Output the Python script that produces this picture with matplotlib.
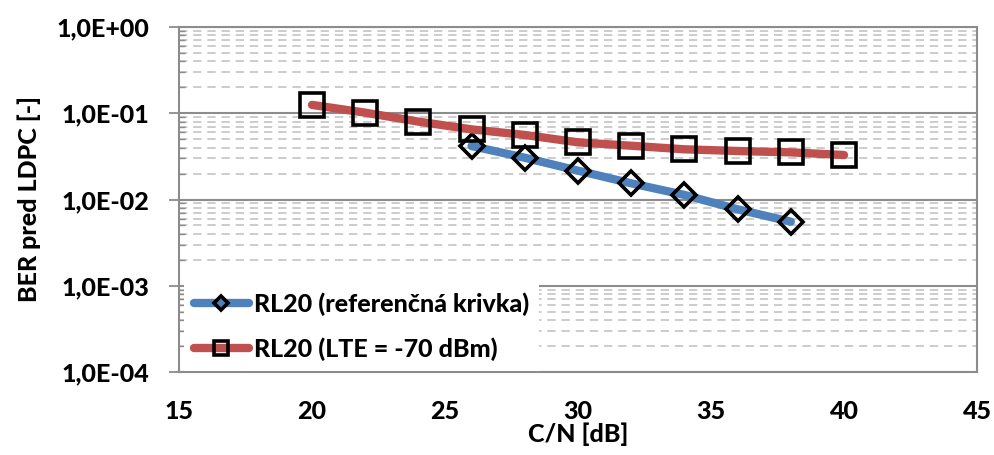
import matplotlib
matplotlib.use("Agg")
import matplotlib.pyplot as plt
from matplotlib.lines import Line2D
from matplotlib.ticker import LogLocator, FixedLocator, NullFormatter

plt.rcParams['font.family'] = ['Lato', 'DejaVu Sans']
FW = 900
plt.rcParams['font.weight'] = FW

# Data
cn_ref = [26, 28, 30, 32, 34, 36, 38]
ber_ref = [0.0417, 0.0305, 0.0216, 0.0154, 0.0113, 0.0077, 0.00553]
cn_lte = [20, 22, 24, 26, 28, 30, 32, 34, 36, 38, 40]
ber_lte = [0.125, 0.1016, 0.080, 0.065, 0.056, 0.046, 0.042, 0.0382, 0.0365, 0.0352, 0.0328]
labels = ['RL20 (referenčná krivka)', 'RL20 (LTE = -70 dBm)']
x_ticks = [15, 20, 25, 30, 35, 40, 45]
y_ticks = [1e-4, 1e-3, 1e-2, 1e-1, 1e0]
y_ticklabels = ['1,0E-04', '1,0E-03', '1,0E-02', '1,0E-01', '1,0E+00']

blue = '#4f81bd'
red = '#c0504d'
grid_major = '#8c8c8c'
grid_minor = '#c4c4c4'

fig = plt.figure(figsize=(9.95, 4.55), dpi=100)
ax = fig.add_axes([179/995, 1-372/455, (977-179)/995, (372-27)/455])

ax.set_yscale('log')
ax.set_xlim(15, 45)
ax.set_ylim(1e-4, 1)

ax.plot(cn_ref, ber_ref, color=blue, lw=6, solid_capstyle='round', zorder=3,
        marker='D', ms=12.5, mfc='none', mec='black', mew=2.6)
ax.plot(cn_lte, ber_lte, color=red, lw=6, solid_capstyle='round', zorder=3,
        marker='s', ms=17, mfc='none', mec='black', mew=2.6)

ax.yaxis.set_major_locator(FixedLocator(y_ticks))
ax.set_yticklabels(y_ticklabels)
ax.yaxis.set_minor_locator(LogLocator(base=10, subs=range(2, 10), numticks=20))
ax.yaxis.set_minor_formatter(NullFormatter())
ax.set_xticks(x_ticks)
ax.set_xticklabels([str(v) for v in x_ticks])

ax.grid(True, which='major', axis='y', color=grid_major, lw=1.5, zorder=1)
ax.grid(True, which='minor', axis='y', color=grid_minor, lw=1.2, linestyle=(0, (5, 3.5)), zorder=1)
ax.set_axisbelow(True)

for s in ax.spines.values():
    s.set_color(grid_major)
    s.set_linewidth(1.5)

ax.tick_params(axis='y', which='major', direction='out', length=7.5, width=1.3,
               color=grid_major, labelsize=18, pad=14)
ax.tick_params(axis='y', which='minor', direction='in', length=4, width=1.0, color=grid_major)
ax.tick_params(axis='x', which='both', length=0, labelsize=18, pad=20)
for t in ax.get_xticklabels() + ax.get_yticklabels():
    t.set_fontweight(FW)

ax.set_xlabel('C/N [dB]', fontsize=18, fontweight=FW, labelpad=0)
ax.set_ylabel('BER pred LDPC [-]', fontsize=18, fontweight=FW, labelpad=11)

handles = [
    Line2D([], [], color=blue, lw=6, solid_capstyle='round', marker='D', ms=7.5,
           mfc='none', mec='black', mew=2.6),
    Line2D([], [], color=red, lw=6, solid_capstyle='round', marker='s', ms=10,
           mfc='none', mec='black', mew=2.6),
]
leg = ax.legend(handles, labels, loc='lower left', bbox_to_anchor=(0.006, 0.004),
                borderaxespad=0, frameon=True, facecolor='white', edgecolor='none',
                framealpha=1, fancybox=False, handlelength=2.2, handletextpad=0.2,
                labelspacing=0.85, borderpad=0.4,
                prop={'size': 18, 'weight': FW})
leg.set_zorder(5)

fig.savefig('out.png', dpi=100)
